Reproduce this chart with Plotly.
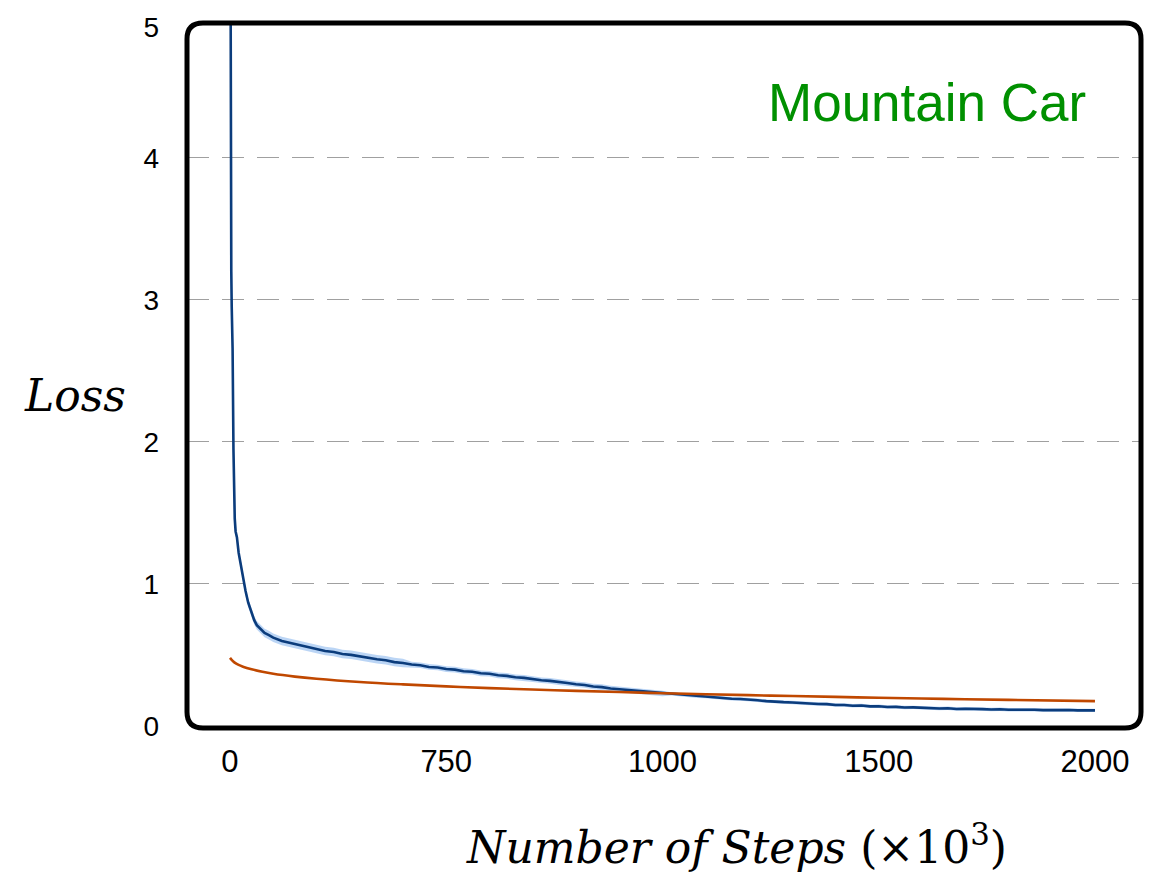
import plotly.graph_objects as go

# ---------------- data ----------------
blue_steps = [0, 1, 2, 3, 4, 6, 8, 9, 11, 13, 16, 20, 25, 30, 36, 42, 50, 56, 62, 70, 80, 90,
              100, 120, 140, 160, 180, 200, 220, 240, 260, 280, 300, 320, 340, 360, 380, 400,
              420, 440, 460, 480, 500, 520, 540, 560, 580, 600, 620, 640, 660, 680, 700, 720,
              740, 760, 780, 800, 820, 840, 860, 880, 900, 920, 940, 960, 980, 1000,
              1020, 1040, 1060, 1080, 1100, 1120, 1140, 1160, 1180, 1200, 1220, 1240, 1260,
              1280, 1300, 1320, 1340, 1360, 1380, 1400, 1420, 1440, 1460, 1480, 1500, 1520,
              1540, 1560, 1580, 1600, 1620, 1640, 1660, 1680, 1700, 1720, 1740, 1760, 1780,
              1800, 1820, 1840, 1860, 1880, 1900, 1920, 1940, 1960, 1980, 2000]
blue_loss = [7.0, 4.2, 3.6, 3.2, 2.95, 2.66, 1.95, 1.6, 1.46, 1.37, 1.33, 1.22, 1.13, 1.04,
             0.95, 0.87, 0.79, 0.745, 0.71, 0.685, 0.655, 0.64,
             0.622, 0.598, 0.585, 0.572, 0.556, 0.545, 0.528, 0.521, 0.507, 0.501, 0.490,
             0.481, 0.470, 0.463, 0.450, 0.444,
             0.433, 0.428, 0.416, 0.412, 0.401, 0.397, 0.386, 0.382, 0.371, 0.368, 0.357,
             0.353, 0.343, 0.339, 0.330, 0.322, 0.318, 0.308, 0.303, 0.294, 0.289, 0.278,
             0.274, 0.264, 0.259, 0.253, 0.246, 0.241, 0.236, 0.229,
             0.226, 0.219, 0.217, 0.210, 0.207, 0.201, 0.199, 0.192, 0.190, 0.183, 0.181,
             0.175, 0.174, 0.168, 0.166, 0.161, 0.159, 0.155, 0.154, 0.148, 0.148, 0.143,
             0.144, 0.138, 0.139, 0.134, 0.135, 0.130, 0.131, 0.127, 0.128, 0.123, 0.125,
             0.120, 0.122, 0.118, 0.119, 0.116, 0.118, 0.114, 0.116, 0.113, 0.115, 0.112,
             0.114, 0.111, 0.113, 0.110, 0.112, 0.110]
blue_spread = [0.03] * 22 + [0.03] * 16 + [0.02] * 30 + [0.012] * 50

orange_steps = [0, 5, 10, 20, 30, 50, 75, 100, 150, 200, 300, 400, 500, 600, 750, 900,
                1000, 1100, 1250, 1400, 1500, 1650, 1800, 2000]
orange_loss = [0.48, 0.462, 0.448, 0.43, 0.418, 0.40, 0.382, 0.368, 0.348, 0.333, 0.31,
               0.293, 0.279, 0.267, 0.252, 0.239, 0.231, 0.224, 0.214, 0.205, 0.199,
               0.191, 0.184, 0.175]

x_tick_vals = [0, 500, 1000, 1500, 2000]
x_tick_text = ["0", "750", "1000", "1500", "2000"]
y_grid_vals = [1, 2, 3, 4]
y_edge_vals = [0, 4.92]
y_edge_text = ["0", "5"]

# ---------------- figure ----------------
W, H = 1162, 876
ML, MR, MT, MB = 187, 21, 23, 148
Y_RANGE = [-0.014, 4.95]

upper = [v + s for v, s in zip(blue_loss, blue_spread)]
lower = [v - s for v, s in zip(blue_loss, blue_spread)]

fig = go.Figure()
fig.add_trace(go.Scatter(x=blue_steps, y=upper, mode="lines", line=dict(width=0),
                         hoverinfo="skip", showlegend=False))
fig.add_trace(go.Scatter(x=blue_steps, y=lower, mode="lines", line=dict(width=0),
                         fill="tonexty", fillcolor="rgba(150,190,240,0.65)",
                         hoverinfo="skip", showlegend=False))
fig.add_trace(go.Scatter(x=blue_steps, y=blue_loss, mode="lines",
                         line=dict(color="#0b3c7c", width=2.6), showlegend=False))
fig.add_trace(go.Scatter(x=orange_steps, y=orange_loss, mode="lines", yaxis="y2",
                         line=dict(color="#c04800", width=2.6, shape="spline"),
                         showlegend=False))

plot_w = W - ML - MR
plot_h = H - MT - MB
r = 16
rx, ry = r / plot_w, r / plot_h
box_path = (f"M {rx},1 L {1-rx},1 Q 1,1 1,{1-ry} L 1,{ry} Q 1,0 {1-rx},0 "
            f"L {rx},0 Q 0,0 0,{ry} L 0,{1-ry} Q 0,1 {rx},1 Z")

tick_font = dict(family="Liberation Sans, Arial, sans-serif", size=28, color="black")

fig.update_layout(
    width=W, height=H,
    margin=dict(l=ML, r=MR, t=MT, b=MB),
    paper_bgcolor="white", plot_bgcolor="white",
    shapes=[dict(type="path", xref="paper", yref="paper", path=box_path,
                 line=dict(color="black", width=5), layer="above")],
    xaxis=dict(range=[-99.4, 2106.4], tickvals=x_tick_vals, ticktext=x_tick_text,
               showgrid=False, zeroline=False, showline=False, ticks="",
               ticklabelstandoff=12,
               tickfont=dict(family="Liberation Sans Narrow, Arial Narrow, Liberation Sans, sans-serif",
                             size=31, color="black")),
    yaxis=dict(range=Y_RANGE, tickvals=y_grid_vals,
               showgrid=True, gridcolor="#a0a0a0", gridwidth=1.3, griddash="22px,13px",
               zeroline=False, showline=False, ticks="", ticklabelstandoff=27,
               tickfont=tick_font),
    yaxis2=dict(range=Y_RANGE, overlaying="y", side="left", tickvals=y_edge_vals,
                ticktext=y_edge_text, showgrid=False, zeroline=False, showline=False,
                ticks="", ticklabelstandoff=27, tickfont=tick_font),
    annotations=[
        dict(text="Mountain Car", xref="paper", yref="paper", x=(1088 - ML) / plot_w,
             y=1 - (103 - MT) / plot_h, xanchor="right", yanchor="middle", showarrow=False,
             font=dict(family="Liberation Sans, Arial, sans-serif", size=53, color="#009000")),
        dict(text="<i>Loss</i>", xref="paper", yref="paper", x=(75 - ML) / plot_w,
             y=1 - (395 - MT) / plot_h, xanchor="center", yanchor="middle", showarrow=False,
             font=dict(family="DejaVu Serif, Liberation Serif, serif", size=44, color="black")),
        dict(text="<i>Number of Steps</i> (×10<sup>3</sup>)", xref="paper", yref="paper",
             x=(736 - ML) / plot_w, y=1 - (845 - MT) / plot_h, xanchor="center",
             yanchor="middle", showarrow=False,
             font=dict(family="DejaVu Serif, Liberation Serif, serif", size=44, color="black")),
    ],
)

fig.write_html("out.html")
